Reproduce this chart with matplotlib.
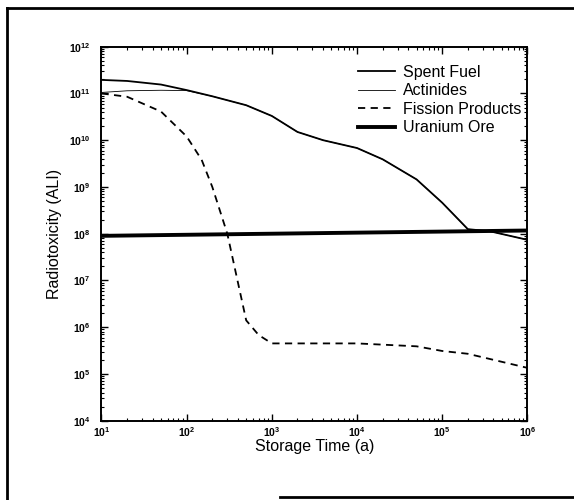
import numpy as np
import matplotlib.pyplot as plt
from matplotlib.lines import Line2D

plt.rcParams['font.family'] = ['Liberation Sans', 'DejaVu Sans']

# storage time (a) and radiotoxicity (ALI)
t_spent = [10, 20, 50, 100, 200, 500, 1000, 2000, 4000, 10000, 20000, 50000,
           100000, 200000, 360000, 1000000]
spent_fuel = [1.95e11, 1.85e11, 1.55e11, 1.18e11, 8.7e10, 5.6e10, 3.3e10,
              1.5e10, 1.0e10, 6.8e9, 3.9e9, 1.45e9, 4.6e8, 1.25e8, 1.13e8, 7.4e7]

t_act = [10, 20, 50, 100, 200, 500, 1000, 2000, 4000, 10000, 20000, 50000,
         100000, 200000, 360000, 1000000]
actinides = [1.05e11, 1.14e11, 1.17e11, 1.15e11, 8.7e10, 5.6e10, 3.3e10,
             1.5e10, 1.0e10, 6.8e9, 3.9e9, 1.45e9, 4.6e8, 1.25e8, 1.13e8, 7.4e7]

t_fp = [10, 20, 50, 100, 150, 200, 300, 400, 500, 700, 1000, 10000, 50000,
        100000, 200000, 1000000]
fission = [1.0e11, 8.5e10, 4.1e10, 1.2e10, 3.8e9, 1.0e9, 1.0e8, 9e6, 1.4e6,
           6.8e5, 4.5e5, 4.5e5, 3.9e5, 3.1e5, 2.7e5, 1.35e5]

t_ore = [10, 1000000]
uranium_ore = [9.0e7, 1.17e8]

fig = plt.figure(figsize=(5.74, 5.0), dpi=100)
ax = fig.add_axes([0.1768, 0.1586, 0.742, 0.748])

ax.plot(t_spent, spent_fuel, color='black', lw=1.3, label='Spent Fuel')
ax.plot(t_act, actinides, color='black', lw=0.6, label='Actinides')
ax.plot(t_fp, fission, color='black', lw=1.3, ls=(0, (4, 3)), label='Fission Products')
ax.plot(t_ore, uranium_ore, color='black', lw=2.8, label='Uranium Ore')

ax.set_xscale('log')
ax.set_yscale('log')
ax.set_xlim(10, 1e6)
ax.set_ylim(1e4, 1e12)
ax.set_xticks([10, 1e2, 1e3, 1e4, 1e5, 1e6])
ax.set_yticks([1e4, 1e5, 1e6, 1e7, 1e8, 1e9, 1e10, 1e11, 1e12])
ax.tick_params(which='both', direction='in', top=True, right=True, labelsize=7.5)
ax.tick_params(which='major', length=5, width=1)
ax.tick_params(which='minor', length=2.5, width=0.8)
ax.tick_params(axis='y', pad=8)
for lab in ax.get_xticklabels() + ax.get_yticklabels():
    lab.set_fontweight('bold')
for s in ax.spines.values():
    s.set_linewidth(1.4)

ax.set_xlabel('Storage Time (a)', fontsize=11.5, labelpad=0)
ax.set_ylabel('Radiotoxicity (ALI)', fontsize=11.5, labelpad=5)

ax.legend(loc='upper right', frameon=False, fontsize=11.5, handlelength=2.3,
          handletextpad=0.5, labelspacing=0.22, borderaxespad=0.0,
          bbox_to_anchor=(1.0, 0.969))

# outer frame of the scanned figure
fig.add_artist(Line2D([7 / 574, 7 / 574], [0, 1 - 8 / 500], color='black', lw=2, transform=fig.transFigure))
fig.add_artist(Line2D([7 / 574, 1], [1 - 8 / 500, 1 - 8 / 500], color='black', lw=2, transform=fig.transFigure))
fig.add_artist(Line2D([280 / 574, 1], [3 / 500, 3 / 500], color='black', lw=2, transform=fig.transFigure))

fig.savefig('out.png', dpi=100)
